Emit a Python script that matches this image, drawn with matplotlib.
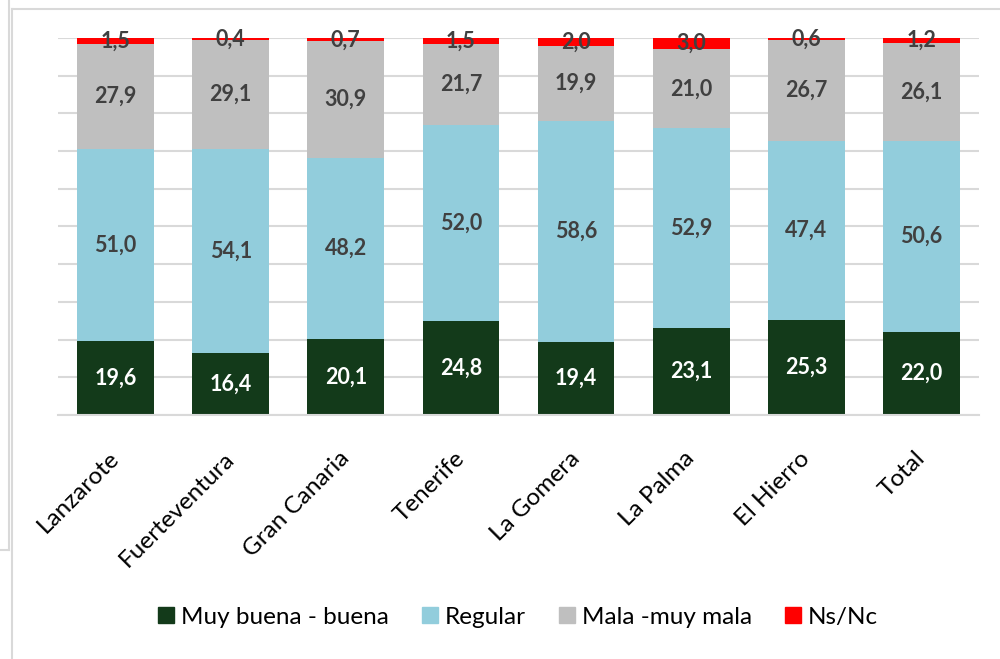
import numpy as np
import matplotlib
matplotlib.use("Agg")
import matplotlib.pyplot as plt
from matplotlib.lines import Line2D

islas = ["Lanzarote", "Fuerteventura", "Gran Canaria", "Tenerife",
         "La Gomera", "La Palma", "El Hierro", "Total"]
buena = [19.6, 16.4, 20.1, 24.8, 19.4, 23.1, 25.3, 22.0]
regular = [51.0, 54.1, 48.2, 52.0, 58.6, 52.9, 47.4, 50.6]
mala = [27.9, 29.1, 30.9, 21.7, 19.9, 21.0, 26.7, 26.1]
nsnc = [1.5, 0.4, 0.7, 1.5, 2.0, 3.0, 0.6, 1.2]

series = [
    ("Muy buena - buena", buena, "#133a1a", "white"),
    ("Regular", regular, "#92cddc", "#404040"),
    ("Mala -muy mala", mala, "#bfbfbf", "#404040"),
    ("Ns/Nc", nsnc, "#ff0000", "#404040"),
]

plt.rcParams['font.family'] = ['Lato', 'DejaVu Sans']

fig = plt.figure(figsize=(10, 6.59), dpi=100)
ax = fig.add_axes([0.058, 0.3703, 0.921, 0.572])

x = np.arange(len(islas))
bottom = np.zeros(len(islas))
for name, vals, color, tcolor in series:
    vals = np.array(vals)
    bars = ax.bar(x, vals, 0.667, bottom=bottom, color=color, label=name,
                  zorder=2, linewidth=0)
    for xi, b, v in zip(x, bottom, vals):
        ax.text(xi, b + v / 2, f"{v:.1f}".replace(".", ","), ha="center",
                va="center", fontsize=15.5, fontweight="bold", color=tcolor,
                zorder=3)
    bottom += vals

ax.set_xlim(-0.5, 7.5)
ax.set_ylim(0, 100)
ax.set_yticks(np.arange(0, 101, 10))
ax.set_yticklabels([])
ax.tick_params(axis="y", length=0)
ax.tick_params(axis="x", length=0, pad=29)
ax.grid(axis="y", color="#d9d9d9", linewidth=1.5, zorder=0)
for s in ["top", "right", "left"]:
    ax.spines[s].set_visible(False)
ax.spines["bottom"].set_color("#d9d9d9")
ax.spines["bottom"].set_linewidth(1.5)

ax.set_xticks(x)
ax.set_xticklabels(islas, rotation=45, ha="right", va="center",
                   rotation_mode="anchor", fontsize=17.5, color="#000000")

handles = [Line2D([0], [0], marker="s", linestyle="none", markersize=11,
                  markerfacecolor=c, markeredgecolor=c)
           for _, _, c, _ in series]
fig.legend(handles, [s[0] for s in series], loc="center",
           bbox_to_anchor=(0.516, 0.063), ncol=4, frameon=False, fontsize=17.5,
           handletextpad=0.1, handlelength=1.0, columnspacing=1.2)

# chart frame remnants
fig.add_artist(Line2D([12 / 1000, 12 / 1000], [0, 1 - 9 / 659],
                      transform=fig.transFigure, color="#d9d9d9", lw=1.5))
fig.add_artist(Line2D([12 / 1000, 1], [1 - 9 / 659, 1 - 9 / 659],
                      transform=fig.transFigure, color="#d9d9d9", lw=1.5))
fig.add_artist(Line2D([9 / 1000, 9 / 1000], [1 - 550 / 659, 1],
                      transform=fig.transFigure, color="#d9d9d9", lw=1.5))
fig.add_artist(Line2D([0, 9 / 1000], [1 - 550 / 659, 1 - 550 / 659],
                      transform=fig.transFigure, color="#d9d9d9", lw=1.5))

fig.savefig("out.png", dpi=100)
